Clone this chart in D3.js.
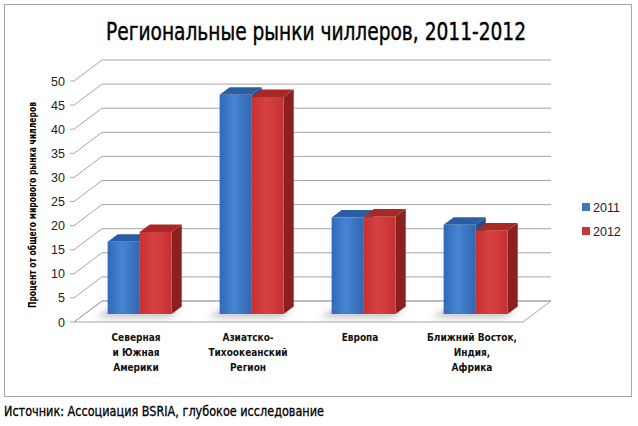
<!DOCTYPE html>
<html>
<head>
<meta charset="utf-8">
<script src="https://cdn.jsdelivr.net/npm/d3@7"></script>
<style>
  body { margin: 0; background: #fff; }
</style>
</head>
<body>
<svg width="638" height="426"></svg>
<script>
// data
const categories = [
  ["Северная", "и Южная", "Америки"],
  ["Азиатско-", "Тихоокеанский", "Регион"],
  ["Европа"],
  ["Ближний Восток,", "Индия,", "Африка"]
];
const series = ["2011", "2012"];
const values2011 = [15, 45.5, 20, 18.5];
const values2012 = [17, 45, 20.2, 17.3];
const yTicks = [0, 5, 10, 15, 20, 25, 30, 35, 40, 45, 50];

const titleText = "Региональные рынки чиллеров, 2011-2012";
const yTitle = "Процент от общего мирового рынка чиллеров";
const sourceText = "Источник: Ассоциация BSRIA, глубокое исследование";

const cond = "'DejaVu Sans Condensed', 'DejaVu Sans', sans-serif";

const svg = d3.select("svg");

// outer frame
svg.append("rect")
   .attr("x", 4.5).attr("y", 4.5)
   .attr("width", 627).attr("height", 392)
   .attr("fill", "#fff")
   .attr("stroke", "#a6a6a6");

svg.append("text")
   .attr("x", 316).attr("y", 40)
   .attr("text-anchor", "middle")
   .attr("font-family", cond)
   .attr("font-size", 24)
   .attr("stroke", "#000").attr("stroke-width", 0.4)
   .attr("textLength", 420)
   .attr("lengthAdjust", "spacingAndGlyphs")
   .text(titleText);

// 3d projection: depth d in [0,1] moves up and right
const depthX = 28, depthY = 21;
const y = d3.scaleLinear().domain([0, 50]).range([322, 81]);
const x0 = d3.scaleBand().domain(d3.range(categories.length)).range([73, 521]);
const x1 = d3.scaleBand().domain(series).range([0, x0.bandwidth()]).paddingOuter(0.75);
const wallL = 74, wallR = 523;

const P = (x, v, d) => [x + d * depthX, y(v) - d * depthY];
const poly = pts => "M" + pts.map(p => p.join(",")).join("L") + "Z";

const defs = svg.append("defs");
function grad(id, stops) {
  const g = defs.append("linearGradient").attr("id", id)
    .attr("x1", 0).attr("x2", 1).attr("y1", 0).attr("y2", 0);
  stops.forEach(([o, c]) => g.append("stop").attr("offset", o).attr("stop-color", c));
}
grad("gBlue", [[0, "#3069b8"], [0.45, "#4585d2"], [1, "#3066b2"]]);
grad("gRed", [[0, "#c53131"], [0.45, "#d94141"], [1, "#c23232"]]);
defs.append("filter").attr("id", "blur")
    .attr("x", "-50%").attr("y", "-50%").attr("width", "200%").attr("height", "200%")
    .append("feGaussianBlur").attr("stdDeviation", 3);

// floor
svg.append("path")
   .attr("d", poly([P(wallL, 0, 0), P(wallL, 0, 1), P(wallR, 0, 1), P(wallR, 0, 0)]))
   .attr("fill", "#fff")
   .attr("stroke", "#a6a6a6");

// gridlines on side and back walls
const grid = svg.append("g").attr("stroke", "#a6a6a6").attr("fill", "none");
yTicks.forEach(t => {
  grid.append("path").attr("d", "M" + [P(wallL - 4, t, 0), P(wallL, t, 0), P(wallL, t, 1), P(wallR, t, 1)].map(p => p.join(",")).join("L"));
});

// y tick labels
svg.append("g").selectAll("text").data(yTicks).join("text")
   .attr("x", 65).attr("y", d => y(d) + 4.5)
   .attr("text-anchor", "end")
   .attr("font-family", "'Liberation Sans', Arial, sans-serif")
   .attr("font-size", 12.5)
   .attr("fill", "#222")
   .text(d => d);

svg.append("text")
   .attr("transform", "translate(36,205) rotate(-90)")
   .attr("text-anchor", "middle")
   .attr("font-family", cond)
   .attr("font-size", 10.5)
   .attr("font-weight", "bold")
   .attr("textLength", 206)
   .attr("lengthAdjust", "spacingAndGlyphs")
   .text(yTitle);

// bars
const dF = 0.38, dB = 0.74;
const bars = [];
categories.forEach((c, i) => {
  bars.push({ i, s: "2011", v: values2011[i], fill: "url(#gBlue)", top: "#2a5da3", side: "#234f8c" });
  bars.push({ i, s: "2012", v: values2012[i], fill: "url(#gRed)", top: "#a82828", side: "#8a2020" });
});

// shadows on floor
categories.forEach((c, i) => {
  const xa = x0(i) + x1("2011") - 6, xb = x0(i) + x1("2012") + x1.bandwidth() + 2;
  svg.append("path")
     .attr("d", poly([P(xa, 0, 0.2), P(xa, 0, 0.6), P(xb, 0, 0.6), P(xb, 0, 0.2)]))
     .attr("fill", "#9a9a9a")
     .attr("opacity", 0.55)
     .attr("filter", "url(#blur)");
});

const bg = svg.append("g");
bars.forEach(b => {
  const xl = x0(b.i) + x1(b.s), xr = xl + x1.bandwidth();
  const g = bg.append("g");
  g.append("path")
   .attr("d", poly([P(xr, 0, dF), P(xr, 0, dB), P(xr, b.v, dB), P(xr, b.v, dF)]))
   .attr("fill", b.side);
  g.append("path")
   .attr("d", poly([P(xl, b.v, dF), P(xl, b.v, dB), P(xr, b.v, dB), P(xr, b.v, dF)]))
   .attr("fill", b.top);
  g.append("path")
   .attr("d", poly([P(xl, 0, dF), P(xl, b.v, dF), P(xr, b.v, dF), P(xr, 0, dF)]))
   .attr("fill", b.fill);
});

// category labels
categories.forEach((lines, i) => {
  const t = svg.append("text")
     .attr("text-anchor", "middle")
     .attr("font-family", cond)
     .attr("font-size", 10)
     .attr("font-weight", "bold")
     .attr("fill", "#111");
  lines.forEach((l, k) => {
    t.append("tspan")
     .attr("x", x0(i) + x0.bandwidth() / 2 + 7)
     .attr("y", 341 + k * 15)
     .text(l);
  });
});

// legend
const leg = svg.append("g").attr("transform", "translate(582,202)");
[["2011", "#3a78c8"], ["2012", "#cc3535"]].forEach(([s, c], k) => {
  leg.append("rect").attr("x", 0).attr("y", k * 24 + 1).attr("width", 8).attr("height", 8).attr("fill", c);
  leg.append("text")
     .attr("x", 11).attr("y", k * 24 + 10)
     .attr("font-family", "'Liberation Sans', Arial, sans-serif")
     .attr("font-size", 12.5)
     .attr("fill", "#222")
     .text(s);
});

svg.append("text")
   .attr("x", 4).attr("y", 416)
   .attr("font-family", cond)
   .attr("font-size", 14)
   .attr("stroke", "#000").attr("stroke-width", 0.3)
   .attr("textLength", 320)
   .attr("lengthAdjust", "spacingAndGlyphs")
   .text(sourceText);
</script>
</body>
</html>
